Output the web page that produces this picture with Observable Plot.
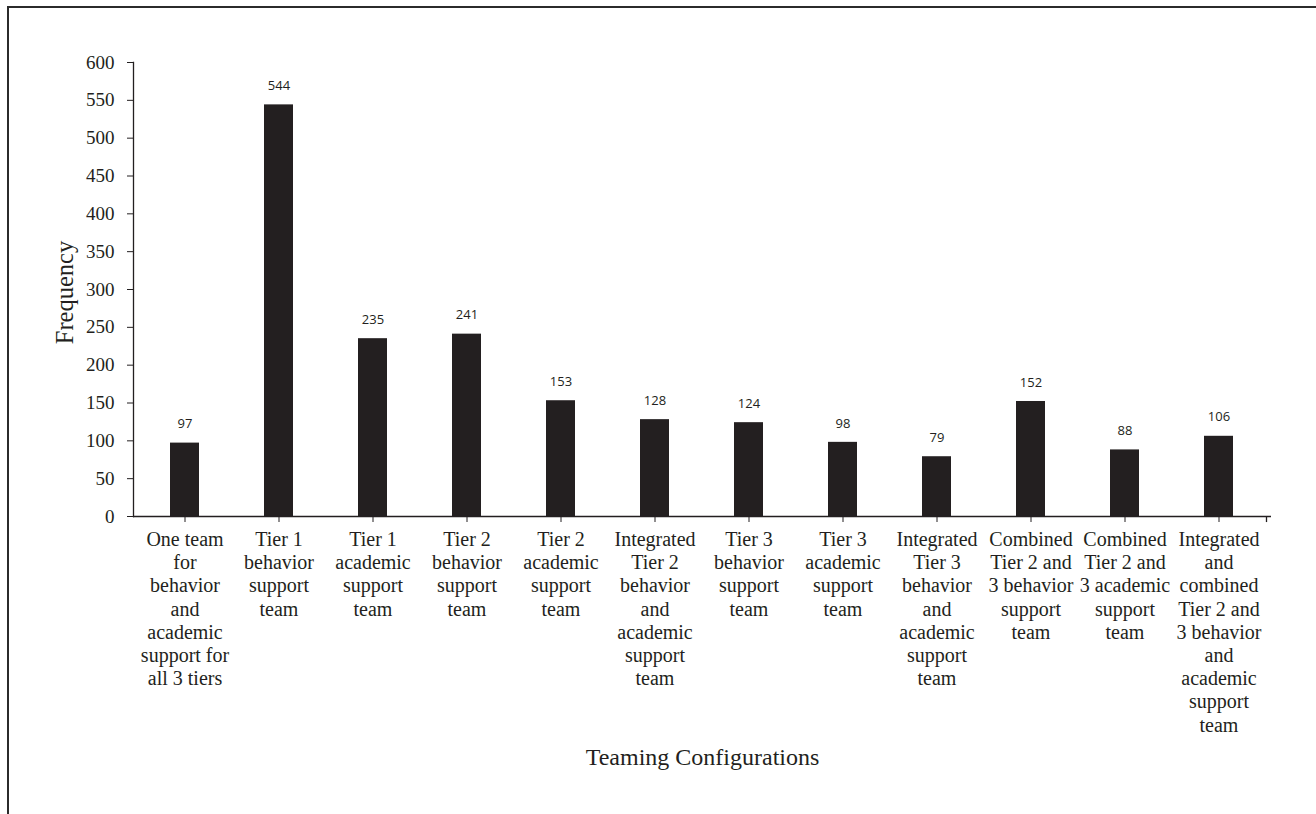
<!DOCTYPE html>
<html>
<head>
<meta charset="utf-8">
<script src="https://cdn.jsdelivr.net/npm/d3@7"></script>
<script src="https://cdn.jsdelivr.net/npm/@observablehq/plot@0.6"></script>
<style>
  html, body { margin: 0; padding: 0; background: #fff; }
  #wrap { position: relative; width: 1316px; height: 814px; overflow: hidden; }
  #border { position: absolute; left: 7px; top: 6px; width: 1320px; height: 820px;
            border-top: 2px solid #2b2b2b; border-left: 2px solid #2b2b2b; box-sizing: border-box; pointer-events: none; }
  #chart { position: absolute; left: 0; top: 0; }
  #chart svg [aria-label$="tick label"], #chart svg [aria-label$="tick label"] text {
    font-family: 'Liberation Serif', 'DejaVu Serif', serif !important;
  }
</style>
</head>
<body>
<div id="wrap"><div id="chart"></div><div id="border"></div></div>
<script>
const categories = [
  "One team\nfor\nbehavior\nand\nacademic\nsupport for\nall 3 tiers",
  "Tier 1\nbehavior\nsupport\nteam",
  "Tier 1\nacademic\nsupport\nteam",
  "Tier 2\nbehavior\nsupport\nteam",
  "Tier 2\nacademic\nsupport\nteam",
  "Integrated\nTier 2\nbehavior\nand\nacademic\nsupport\nteam",
  "Tier 3\nbehavior\nsupport\nteam",
  "Tier 3\nacademic\nsupport\nteam",
  "Integrated\nTier 3\nbehavior\nand\nacademic\nsupport\nteam",
  "Combined\nTier 2 and\n3 behavior\nsupport\nteam",
  "Combined\nTier 2 and\n3 academic\nsupport\nteam",
  "Integrated\nand\ncombined\nTier 2 and\n3 behavior\nand\nacademic\nsupport\nteam"
];
const frequencies = [97, 544, 235, 241, 153, 128, 124, 98, 79, 152, 88, 106];
const yTicks = [0, 50, 100, 150, 200, 250, 300, 350, 400, 450, 500, 550, 600];
const xTitle = "Teaming Configurations";
const yTitle = "Frequency";

const data = categories.map((c, i) => ({category: c, value: frequencies[i]}));
const ink = "#231f20";
const serif = "'Liberation Serif', 'DejaVu Serif', serif";
const sans = "'Open Sans', 'Liberation Sans', sans-serif";

const chart = Plot.plot({
  width: 1316,
  height: 814,
  marginLeft: 133,
  marginRight: 45,
  marginTop: 62,
  marginBottom: 298,
  style: {background: "transparent", color: ink, fontFamily: serif},
  x: {domain: categories, paddingInner: 0.69, paddingOuter: 0.345},
  y: {domain: [0, 600]},
  marks: [
    Plot.barY(data, {x: "category", y: "value", fill: ink}),
    Plot.text(data, {x: "category", y: "value", text: d => String(d.value), dy: -19,
      fontFamily: sans, fontSize: 13, fill: ink}),
    Plot.ruleY([0], {stroke: ink, strokeWidth: 1.3}),
    Plot.frame({anchor: "left", stroke: ink, strokeWidth: 1.3}),
    Plot.axisY({ticks: yTicks, tickSize: 6, tickPadding: 13, tickFormat: d => String(d),
      fontFamily: serif, fontSize: 19, label: null, stroke: ink, fill: ink}),
    Plot.axisX({tickSize: 6, tickPadding: 7, fontFamily: serif, fontSize: 20,
      lineHeight: 1.16, label: null, stroke: ink, fill: ink}),
    Plot.ruleX([categories[categories.length - 1]], {y1: 0, y2: -8, dx: 47.5, stroke: ink, strokeWidth: 1.3}),
    Plot.text([xTitle], {frameAnchor: "bottom", dy: 248, text: d => d,
      fontFamily: serif, fontSize: 24, fill: ink}),
    Plot.text([yTitle], {frameAnchor: "left", textAnchor: "middle", dx: -68, dy: 3, rotate: -90, text: d => d,
      fontFamily: serif, fontSize: 24.5, fill: ink})
  ]
});
document.getElementById("chart").appendChild(chart);
</script>
</body>
</html>
